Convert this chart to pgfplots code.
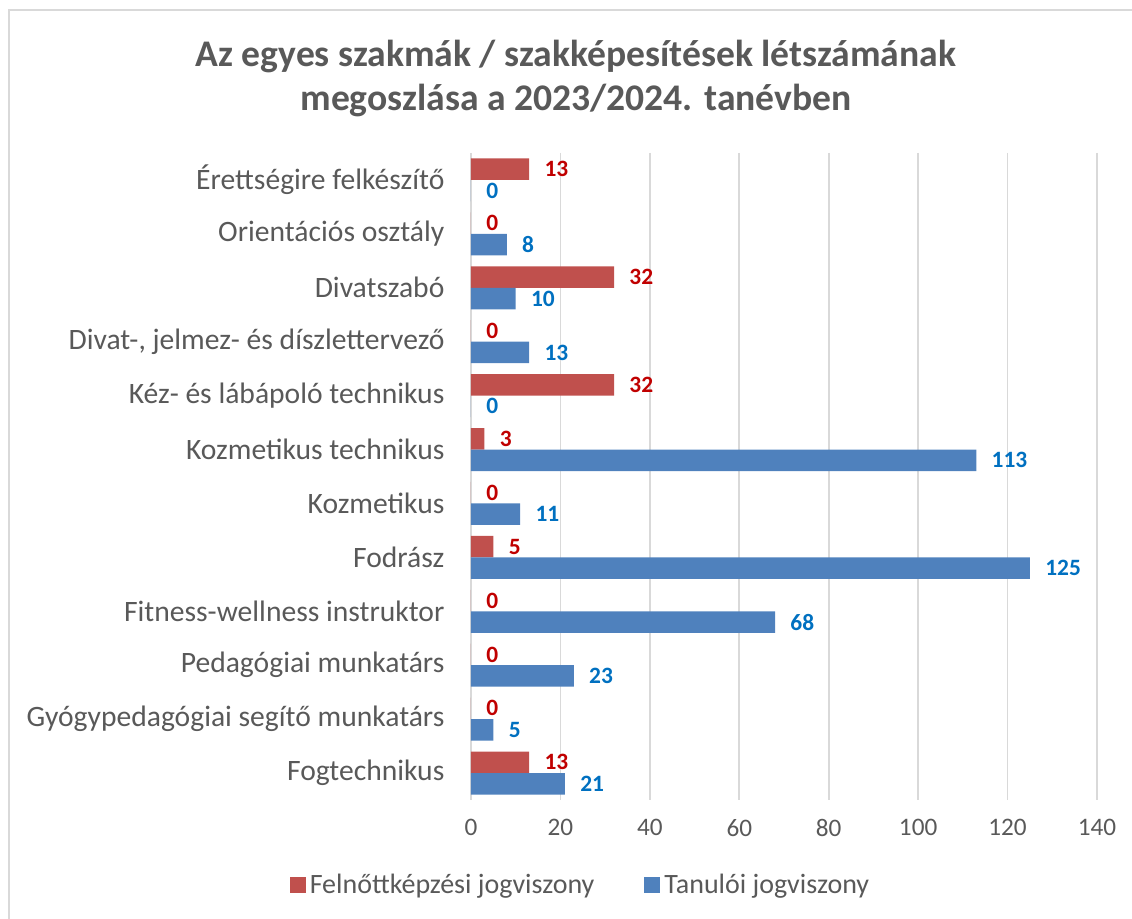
\documentclass[border=0pt]{standalone}
\usepackage{fontspec}
\setmainfont{Carlito}
\usepackage{pgfplots}
\pgfplotsset{compat=1.18}
\definecolor{cRed}{HTML}{C0504D}
\definecolor{cBlue}{HTML}{4F81BD}
\definecolor{lRed}{HTML}{C00000}
\definecolor{lBlue}{HTML}{0070C0}
\definecolor{txt}{HTML}{595959}
\definecolor{gridc}{HTML}{D9D9D9}
\begin{document}
\begin{tikzpicture}
\useasboundingbox (0,0) rectangle (566pt,459.5pt);
% chart frame, only its top and left edges fall inside the picture
\draw[gridc, line width=1pt] (4.5pt,0pt) -- (4.5pt,454.5pt) -- (566pt,454.5pt);
\node[font=\fontsize{18.8}{22}\selectfont\bfseries, text=txt, align=center]
  at (288pt,420pt) {Az egyes szakmák / szakképesítések létszámának\\megoszlása a 2023/2024. tanévben};
\begin{axis}[
  at={(235.5pt,59.5pt)}, anchor=south west,
  scale only axis, width=313pt, height=323.5pt,
  xbar=0pt, bar width=10.75pt,
  y dir=reverse,
  xmin=0, xmax=140, ymin=-0.5, ymax=11.5,
  xtick={0,20,...,140},
  ytick={0,...,11},
  yticklabels={Érettségire felkészítő, Orientációs osztály, Divatszabó,
    {Divat-, jelmez- és díszlettervező}, Kéz- és lábápoló technikus,
    Kozmetikus technikus, Kozmetikus, Fodrász, Fitness-wellness instruktor,
    Pedagógiai munkatárs, Gyógypedagógiai segítő munkatárs, Fogtechnikus},
  /pgf/number format/assume math mode=true,
  tick style={draw=none},
  xmajorgrids, grid style={gridc, line width=0.8pt},
  axis line style={draw=none},
  x tick label style={font=\fontsize{12.6}{14}\selectfont, text=txt, yshift=-6pt},
  y tick label style={font=\fontsize{14.8}{17}\selectfont, text=txt, xshift=-5.5pt},
  nodes near coords,
  nodes near coords style={font=\fontsize{11.7}{13}\selectfont\bfseries, anchor=west, inner sep=0pt, xshift=7.5pt},
  legend style={at={(0.1765,-0.1314)}, anchor=center, draw=none, fill=none,
    legend columns=2, font=\fontsize{14}{16}\selectfont, text=txt,
    inner sep=0pt, outer sep=0pt,
    /tikz/every even column/.append style={column sep=23pt}},
  legend image code/.code={\fill[#1] (0pt,-4pt) rectangle (8pt,4pt);},
]
\draw[gridc, line width=0.8pt] (axis cs:0,-0.5) -- (axis cs:0,11.5);
\addplot[fill=cRed, draw=none, bar shift=5.375pt, nodes near coords style={text=lRed}] coordinates {
  (13,0) (0,1) (32,2) (0,3) (32,4) (3,5) (0,6) (5,7) (0,8) (0,9) (0,10) (13,11)
};
\addplot[fill=cBlue, draw=none, bar shift=-5.375pt, nodes near coords style={text=lBlue}] coordinates {
  (0,0) (8,1) (10,2) (13,3) (0,4) (113,5) (11,6) (125,7) (68,8) (23,9) (5,10) (21,11)
};
\legend{Felnőttképzési jogviszony, Tanulói jogviszony}
\end{axis}
\end{tikzpicture}
\end{document}
